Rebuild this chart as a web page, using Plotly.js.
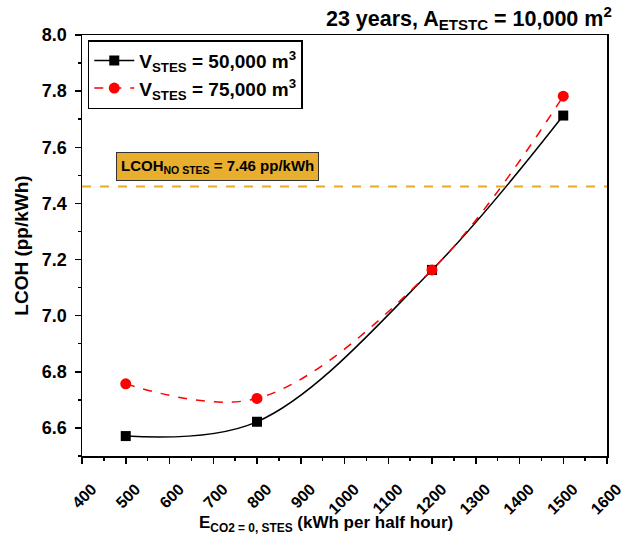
<!DOCTYPE html>
<html><head><meta charset="utf-8">
<script src="https://cdn.plot.ly/plotly-3.0.1.min.js"></script>
<style>html,body{margin:0;padding:0;background:#fff}#chart{width:632px;height:541px}</style>
</head><body><div id="chart"></div>
<script>
var energyX = [500, 800, 1200, 1500];
var lcoh50k = [6.571, 6.622, 7.163, 7.713];
var lcoh75k = [6.757, 6.705, 7.163, 7.782];
var noStesLCOH = 7.46;
var xTickVals = [400,500,600,700,800,900,1000,1100,1200,1300,1400,1500,1600];
var yTickVals = [6.6,6.8,7.0,7.2,7.4,7.6,7.8,8.0];
var yTickText = ['6.6','6.8','7.0','7.2','7.4','7.6','7.8','8.0'];

var FONT = 'Liberation Sans, Arial, sans-serif';
var traces = [
  {x: energyX, y: lcoh50k, type:'scatter', mode:'lines+markers',
   name:'<b>V<sub>STES</sub> = 50,000 m<sup>3</sup></b>',
   line:{color:'#000', width:1.5, shape:'spline', smoothing:1},
   marker:{symbol:'square', size:10, color:'#000'}},
  {x: energyX, y: lcoh75k, type:'scatter', mode:'lines+markers',
   name:'<b>V<sub>STES</sub> = 75,000 m<sup>3</sup></b>',
   line:{color:'#ff0000', width:1.5, dash:'dash', shape:'spline', smoothing:1},
   marker:{symbol:'circle', size:11, color:'#ff0000'}}
];
var layout = {
  width:632, height:541,
  margin:{l:82, r:25, t:35, b:85},
  paper_bgcolor:'#fff', plot_bgcolor:'#fff',
  font:{family:FONT, color:'#000'},
  title:{text:'<b>23 years, A<sub>ETSTC</sub> = 10,000 m<sup>2</sup></b>',
    xref:'container', yref:'container', x:0.968, xanchor:'right', y:0.966, yanchor:'middle',
    font:{size:21.5, family:FONT, color:'#000'}},
  xaxis:{range:[400,1600], tickvals:xTickVals, ticktext:xTickVals.map(String), tickangle:-45,
    ticks:'outside', ticklen:6, tickwidth:1.5, tickcolor:'#000',
    ticklabelshift:10, ticklabelstandoff:10,
    minor:{ticks:'outside', dtick:50, tick0:400, ticklen:3, tickwidth:1.5, tickcolor:'#000'},
    showline:true, linecolor:'#000', linewidth:1.5, mirror:true, showgrid:false, zeroline:false,
    tickfont:{size:16, family:FONT, weight:'bold'},
    title:{text:''}},
  yaxis:{range:[6.5,8.0], tickvals:yTickVals, ticktext:yTickText,
    ticks:'outside', ticklen:6, tickwidth:1.5, tickcolor:'#000', ticklabelstandoff:4,
    minor:{ticks:'outside', dtick:0.1, tick0:6.5, ticklen:3, tickwidth:1.5, tickcolor:'#000'},
    showline:true, linecolor:'#000', linewidth:1.5, mirror:true, showgrid:false, zeroline:false,
    tickfont:{size:18, family:FONT, weight:'bold'},
    title:{text:'<b>LCOH (pp/kWh)</b>', font:{size:19, family:FONT}, standoff:8}},
  showlegend:true,
  legend:{x:0.011, y:0.988, xanchor:'left', yanchor:'top', bordercolor:'#000', borderwidth:1.5,
    bgcolor:'#fff', font:{size:19, family:FONT, color:'#000'}, tracegroupgap:0, itemwidth:40},
  shapes:[{type:'line', xref:'paper', x0:0, x1:1, yref:'y', y0:noStesLCOH, y1:noStesLCOH,
    line:{color:'#E8A928', width:2, dash:'dash'}}],
  annotations:[
   {xref:'x', yref:'y', x:710, y:7.53, showarrow:false,
    text:'<b>LCOH<sub>NO STES</sub> = 7.46 pp/kWh</b>', bgcolor:'#E8AE2E', bordercolor:'#333',
    borderwidth:1, borderpad:4, font:{size:15, family:FONT, color:'#000'}},
   {xref:'paper', yref:'paper', x:0.465, y:-0.162, yanchor:'middle', showarrow:false,
    text:'<b>E<sub>CO2 = 0, STES</sub> (kWh per half hour)</b>', font:{size:17, family:FONT, color:'#000'}}]
};
Plotly.newPlot('chart', traces, layout, {displayModeBar:false, staticPlot:true});
</script></body></html>
